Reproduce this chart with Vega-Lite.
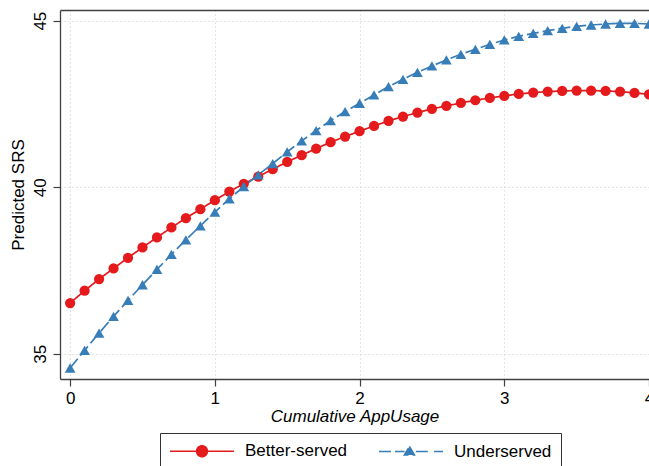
{
  "$schema": "https://vega.github.io/schema/vega-lite/v6.json",
  "width": 589,
  "height": 369,
  "autosize": {"type": "none"},
  "padding": {"left": 60, "top": 10, "right": 0, "bottom": 87},
  "background": "white",
  "config": {
    "font": "Liberation Sans",
    "view": {"stroke": null},
    "axis": {
      "labelFont": "Liberation Sans",
      "titleFont": "Liberation Sans",
      "labelFontSize": 17,
      "titleFontSize": 17,
      "labelColor": "#000",
      "titleColor": "#000",
      "titleFontWeight": "normal",
      "domainColor": "#404040",
      "domainWidth": 1.3,
      "tickColor": "#404040",
      "tickSize": 7,
      "tickWidth": 1.2,
      "gridColor": "#c8c8c8",
      "gridDash": [1, 3],
      "gridWidth": 1
    }
  },
  "data": {
    "values": [
      {"x": 0.0, "g": "Better-served", "y": 36.52},
      {"x": 0.1, "g": "Better-served", "y": 36.89},
      {"x": 0.2, "g": "Better-served", "y": 37.24},
      {"x": 0.3, "g": "Better-served", "y": 37.56},
      {"x": 0.4, "g": "Better-served", "y": 37.88},
      {"x": 0.5, "g": "Better-served", "y": 38.19},
      {"x": 0.6, "g": "Better-served", "y": 38.49},
      {"x": 0.7, "g": "Better-served", "y": 38.79},
      {"x": 0.8, "g": "Better-served", "y": 39.07},
      {"x": 0.9, "g": "Better-served", "y": 39.34},
      {"x": 1.0, "g": "Better-served", "y": 39.61},
      {"x": 1.1, "g": "Better-served", "y": 39.87},
      {"x": 1.2, "g": "Better-served", "y": 40.10},
      {"x": 1.3, "g": "Better-served", "y": 40.32},
      {"x": 1.4, "g": "Better-served", "y": 40.54},
      {"x": 1.5, "g": "Better-served", "y": 40.76},
      {"x": 1.6, "g": "Better-served", "y": 40.96},
      {"x": 1.7, "g": "Better-served", "y": 41.16},
      {"x": 1.8, "g": "Better-served", "y": 41.35},
      {"x": 1.9, "g": "Better-served", "y": 41.52},
      {"x": 2.0, "g": "Better-served", "y": 41.68},
      {"x": 2.1, "g": "Better-served", "y": 41.84},
      {"x": 2.2, "g": "Better-served", "y": 41.99},
      {"x": 2.3, "g": "Better-served", "y": 42.12},
      {"x": 2.4, "g": "Better-served", "y": 42.24},
      {"x": 2.5, "g": "Better-served", "y": 42.35},
      {"x": 2.6, "g": "Better-served", "y": 42.44},
      {"x": 2.7, "g": "Better-served", "y": 42.53},
      {"x": 2.8, "g": "Better-served", "y": 42.61},
      {"x": 2.9, "g": "Better-served", "y": 42.68},
      {"x": 3.0, "g": "Better-served", "y": 42.74},
      {"x": 3.1, "g": "Better-served", "y": 42.80},
      {"x": 3.2, "g": "Better-served", "y": 42.84},
      {"x": 3.3, "g": "Better-served", "y": 42.87},
      {"x": 3.4, "g": "Better-served", "y": 42.89},
      {"x": 3.5, "g": "Better-served", "y": 42.90},
      {"x": 3.6, "g": "Better-served", "y": 42.90},
      {"x": 3.7, "g": "Better-served", "y": 42.89},
      {"x": 3.8, "g": "Better-served", "y": 42.87},
      {"x": 3.9, "g": "Better-served", "y": 42.83},
      {"x": 4.0, "g": "Better-served", "y": 42.79},
      {"x": 0.0, "g": "Underserved", "y": 34.57},
      {"x": 0.1, "g": "Underserved", "y": 35.10},
      {"x": 0.2, "g": "Underserved", "y": 35.62},
      {"x": 0.3, "g": "Underserved", "y": 36.12},
      {"x": 0.4, "g": "Underserved", "y": 36.60},
      {"x": 0.5, "g": "Underserved", "y": 37.07},
      {"x": 0.6, "g": "Underserved", "y": 37.53},
      {"x": 0.7, "g": "Underserved", "y": 37.98},
      {"x": 0.8, "g": "Underserved", "y": 38.42},
      {"x": 0.9, "g": "Underserved", "y": 38.84},
      {"x": 1.0, "g": "Underserved", "y": 39.25},
      {"x": 1.1, "g": "Underserved", "y": 39.65},
      {"x": 1.2, "g": "Underserved", "y": 40.02},
      {"x": 1.3, "g": "Underserved", "y": 40.37},
      {"x": 1.4, "g": "Underserved", "y": 40.71},
      {"x": 1.5, "g": "Underserved", "y": 41.06},
      {"x": 1.6, "g": "Underserved", "y": 41.39},
      {"x": 1.7, "g": "Underserved", "y": 41.70},
      {"x": 1.8, "g": "Underserved", "y": 42.00},
      {"x": 1.9, "g": "Underserved", "y": 42.27},
      {"x": 2.0, "g": "Underserved", "y": 42.52},
      {"x": 2.1, "g": "Underserved", "y": 42.77},
      {"x": 2.2, "g": "Underserved", "y": 43.02},
      {"x": 2.3, "g": "Underserved", "y": 43.24},
      {"x": 2.4, "g": "Underserved", "y": 43.45},
      {"x": 2.5, "g": "Underserved", "y": 43.64},
      {"x": 2.6, "g": "Underserved", "y": 43.82},
      {"x": 2.7, "g": "Underserved", "y": 43.99},
      {"x": 2.8, "g": "Underserved", "y": 44.14},
      {"x": 2.9, "g": "Underserved", "y": 44.29},
      {"x": 3.0, "g": "Underserved", "y": 44.42},
      {"x": 3.1, "g": "Underserved", "y": 44.53},
      {"x": 3.2, "g": "Underserved", "y": 44.62},
      {"x": 3.3, "g": "Underserved", "y": 44.70},
      {"x": 3.4, "g": "Underserved", "y": 44.77},
      {"x": 3.5, "g": "Underserved", "y": 44.83},
      {"x": 3.6, "g": "Underserved", "y": 44.87},
      {"x": 3.7, "g": "Underserved", "y": 44.90},
      {"x": 3.8, "g": "Underserved", "y": 44.92},
      {"x": 3.9, "g": "Underserved", "y": 44.92},
      {"x": 4.0, "g": "Underserved", "y": 44.90}
    ]
  },
  "layer": [
    {
      "mark": {"type": "line", "strokeWidth": 1.7, "clip": true},
      "encoding": {
        "x": {
          "field": "x", "type": "quantitative",
          "scale": {"domain": [-0.07, 4.0], "nice": false, "zero": false},
          "axis": {
            "orient": "bottom", "values": [0, 1, 2, 3, 4], "format": "d",
            "labelFlush": false, "labelPadding": 4, "grid": true,
            "title": "Cumulative AppUsage", "titleFontStyle": "italic", "titlePadding": 2
          }
        },
        "y": {
          "field": "y", "type": "quantitative",
          "scale": {"domain": [34.24, 45.32], "nice": false, "zero": false},
          "axis": {
            "values": [35, 40, 45], "labelAngle": -90, "labelAlign": "center",
            "labelBaseline": "bottom", "labelPadding": 4, "grid": true,
            "title": "Predicted SRS", "titlePadding": 4
          }
        },
        "color": {
          "field": "g", "type": "nominal",
          "scale": {"domain": ["Better-served", "Underserved"], "range": ["#e41a1c", "#377eb8"]},
          "legend": {
            "title": null,
            "orient": "none",
            "legendX": 100,
            "legendY": 423,
            "direction": "horizontal",
            "strokeColor": "#333333",
            "fillColor": "white",
            "padding": 9,
            "columnPadding": 28,
            "labelOffset": 58,
            "labelFontSize": 17,
            "labelColor": "#000",
            "labelFont": "Liberation Sans",
            "symbolSize": 256,
            "symbolStrokeWidth": 1.5,
            "encode": {
              "legend": {"update": {"width": {"value": 382}}},
              "symbols": {
                "update": {
                  "shape": {"signal": "datum.value === 'Better-served' ? 'M-1,0H7M2.32,0A0.68,0.68,0,1,1,3.68,0A0.68,0.68,0,1,1,2.32,0Z' : 'M-1,0H2.2M3.6,0H5.2M5.88,0H7M2.8,-0.64L3.44,0.44L2.16,0.44Z'"},
                  "fill": {"signal": "datum.value === 'Better-served' ? '#e41a1c' : '#377eb8'"},
                  "stroke": {"signal": "datum.value === 'Better-served' ? '#e41a1c' : '#377eb8'"},
                  "fillOpacity": {"value": 1},
                  "strokeWidth": {"value": 1.5}
                }
              }
            }
          }
        },
        "strokeDash": {
          "field": "g", "type": "nominal",
          "scale": {"domain": ["Better-served", "Underserved"], "range": [[1, 0], [12, 4]]},
          "legend": null
        }
      }
    },
    {
      "transform": [{"filter": "datum.g === 'Better-served'"}],
      "mark": {"type": "point", "filled": true, "opacity": 1, "clip": true, "shape": "circle", "size": 105, "color": "#e41a1c"},
      "encoding": {
        "x": {
          "field": "x", "type": "quantitative",
          "scale": {"domain": [-0.07, 4.0], "nice": false, "zero": false},
          "axis": {"orient": "top", "labels": false, "ticks": false, "grid": false, "title": null, "domain": true}
        },
        "y": {"field": "y", "type": "quantitative"}
      }
    },
    {
      "transform": [{"filter": "datum.g === 'Underserved'"}],
      "mark": {"type": "point", "filled": true, "opacity": 1, "clip": true, "shape": "triangle-up", "size": 115, "color": "#377eb8"},
      "encoding": {
        "x": {
          "field": "x", "type": "quantitative",
          "scale": {"domain": [-0.07, 4.0], "nice": false, "zero": false},
          "axis": null
        },
        "y": {"field": "y", "type": "quantitative"}
      }
    }
  ],
  "resolve": {"axis": {"x": "independent"}}
}
